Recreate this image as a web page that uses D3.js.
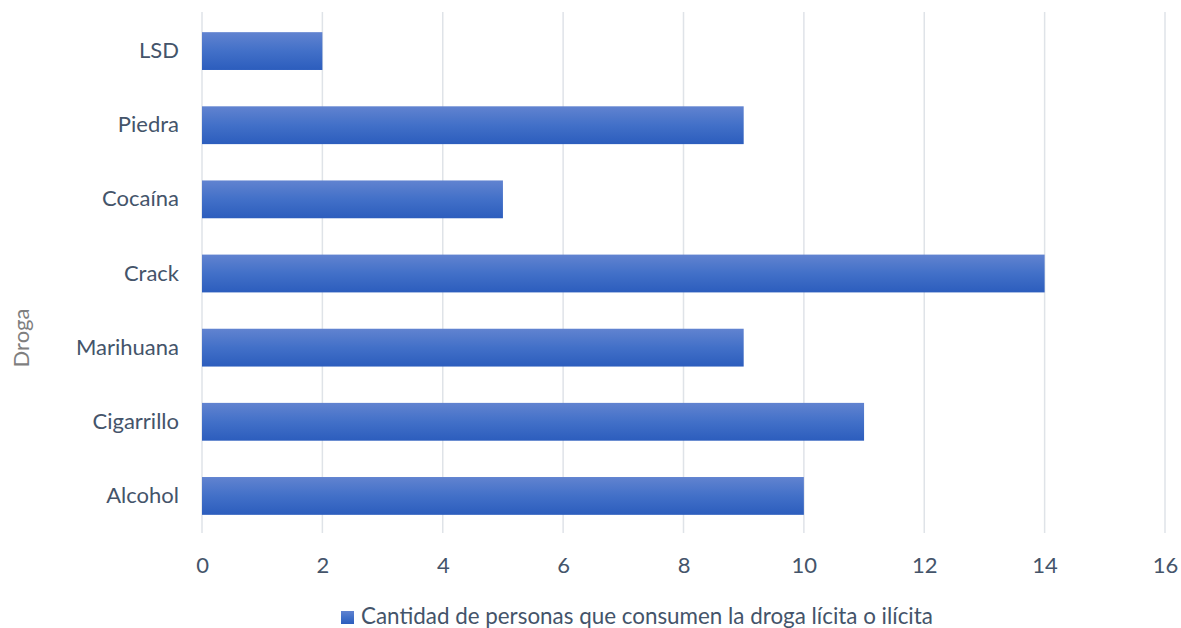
<!DOCTYPE html>
<html>
<head>
<meta charset="utf-8">
<script src="https://cdn.jsdelivr.net/npm/d3@7"></script>
<style>
  body { margin: 0; background: #fff; }
  svg { display: block; }
  text { font-family: Lato, "Open Sans", sans-serif; }
</style>
</head>
<body>
<svg id="chart" width="1181" height="628"></svg>
<script>
// Drug categories (bottom to top as drawn) and counts of people consuming each
const drugs = ["Alcohol", "Cigarrillo", "Marihuana", "Crack", "Cocaína", "Piedra", "LSD"];
const counts = [10, 11, 9, 14, 5, 9, 2];
const xTicks = [0, 2, 4, 6, 8, 10, 12, 14, 16];
const seriesName = "Cantidad de personas que consumen la droga lícita o ilícita";
const axisTitle = "Droga";

const svg = d3.select("#chart");
const margin = { left: 202, right: 16, top: 14, bottom: 95 };
const W = 1181, H = 628;
const FS = 22;

const x = d3.scaleLinear().domain([0, 16]).range([margin.left, W - margin.right]);
const y = d3.scaleBand().domain(drugs.slice().reverse())
  .range([margin.top, H - margin.bottom]).paddingInner(0.49).paddingOuter(0.245);

// Bar fill: light-to-dark vertical gradient
const defs = svg.append("defs");
const grad = defs.append("linearGradient").attr("id", "barGrad")
  .attr("x1", 0).attr("y1", 0).attr("x2", 0).attr("y2", 1);
grad.append("stop").attr("offset", "0%").attr("stop-color", "#6183d0");
grad.append("stop").attr("offset", "50%").attr("stop-color", "#4270c8");
grad.append("stop").attr("offset", "100%").attr("stop-color", "#2c5dbd");

// Vertical gridlines
svg.append("g").selectAll("line").data(xTicks).join("line")
  .attr("x1", d => x(d)).attr("x2", d => x(d))
  .attr("y1", margin.top - 2).attr("y2", H - margin.bottom)
  .attr("stroke", "#dfe3e8").attr("stroke-width", 1.5);

// Bars
svg.append("g").selectAll("rect").data(drugs).join("rect")
  .attr("x", x(0))
  .attr("y", d => y(d))
  .attr("width", (d, i) => x(counts[i]) - x(0))
  .attr("height", y.bandwidth())
  .attr("fill", "url(#barGrad)");

// X axis tick labels
const xAxis = d3.axisBottom(x).tickValues(xTicks).tickSize(0).tickPadding(0);
const gx = svg.append("g").attr("transform", `translate(0, 557)`).call(xAxis);
gx.select(".domain").remove();
gx.selectAll("text").attr("font-size", FS).attr("fill", "#44546a")
  .style("font-family", "Lato, 'Open Sans', sans-serif");

// Y axis category labels
const yAxis = d3.axisLeft(y).tickSize(0).tickPadding(0);
const gy = svg.append("g").attr("transform", `translate(${margin.left - 23}, 0)`).call(yAxis);
gy.select(".domain").remove();
gy.selectAll("text").attr("font-size", FS).attr("fill", "#44546a")
  .style("font-family", "Lato, 'Open Sans', sans-serif");

// Axis title
svg.append("text")
  .attr("transform", `translate(29, 338) rotate(-90)`)
  .attr("text-anchor", "middle")
  .attr("font-size", FS).attr("fill", "#7f7f7f")
  .text(axisTitle);

// Legend
const lg = svg.append("g").attr("transform", "translate(341, 611)");
lg.append("rect").attr("width", 13).attr("height", 13).attr("fill", "url(#barGrad)");
lg.append("text").attr("x", 20).attr("y", 13).attr("font-size", 22.4).attr("fill", "#44546a")
  .text(seriesName);
</script>
</body>
</html>
